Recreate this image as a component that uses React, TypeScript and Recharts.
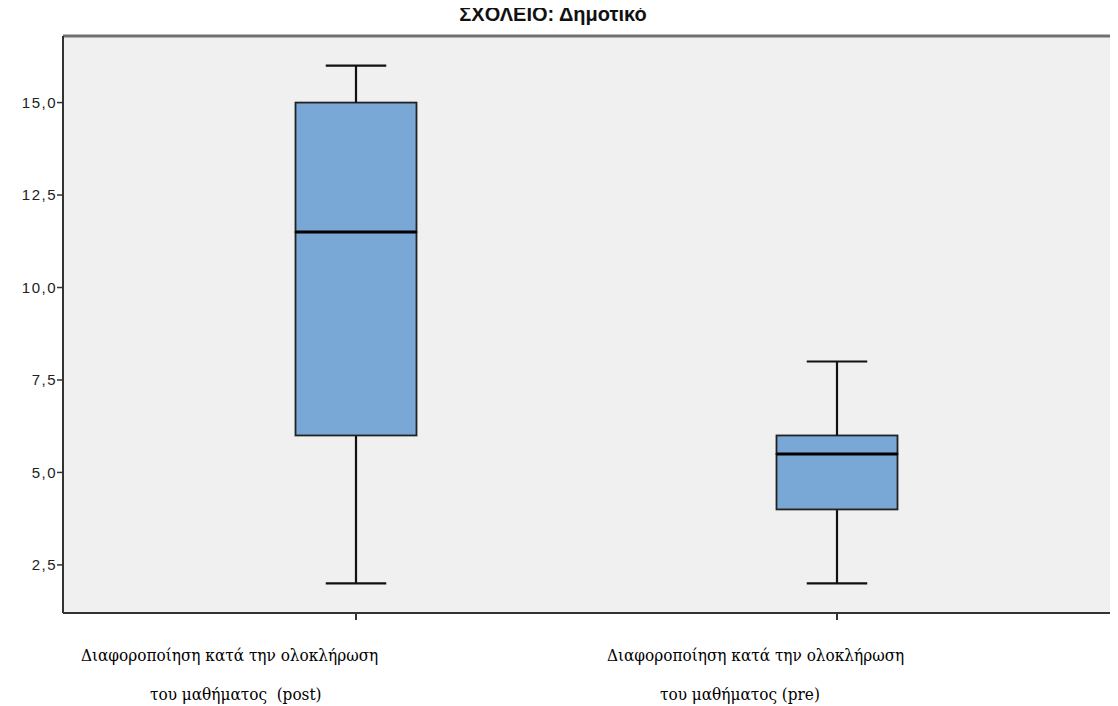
import React from 'react';
import { BarChart, Bar, XAxis, YAxis, CartesianGrid, ReferenceLine } from 'recharts';

// Box plot statistics per group
const LABEL_LINE1 = ['Διαφοροποίηση κατά την ολοκλήρωση', 'Διαφοροποίηση κατά την ολοκλήρωση'];
const LABEL_LINE2 = ['του μαθήματος  (post)', 'του μαθήματος (pre)'];
const CATEGORIES = ['post', 'pre'];
const MIN = [2, 2];
const Q1 = [6, 4];
const MEDIAN = [11.5, 5.5];
const Q3 = [15, 6];
const MAX = [16, 8];
const Y_TICKS = [2.5, 5, 7.5, 10, 12.5, 15];
const Y_DOMAIN = [1.2, 16.8];

// x offsets (line 1, line 2) of the axis labels relative to their tick
const LABEL_OFFSETS = [
    [-275, -206],
    [-230, -177],
];

const WIDTH = 1110;
const HEIGHT = 698;
const BOX_FILL = '#79a7d6';
const INK = '#111';
const SERIF = '"DejaVu Serif Condensed", "DejaVu Serif", serif';
const SANS = '"Liberation Sans", Arial, sans-serif';

const data = CATEGORIES.map((name, i) => ({
    name,
    base: MIN[i],
    lowWhisker: Q1[i] - MIN[i],
    lowBox: MEDIAN[i] - Q1[i],
    highBox: Q3[i] - MEDIAN[i],
    highWhisker: MAX[i] - Q3[i],
}));

const LowWhisker = (p: any) => {
    const cx = p.x + p.width / 2;
    const bottom = p.y + p.height;
    const half = p.width / 4;
    return (
        <g>
            <line x1={cx} x2={cx} y1={p.y} y2={bottom} stroke={INK} strokeWidth={2.2} />
            <line x1={cx - half} x2={cx + half} y1={bottom} y2={bottom} stroke={INK} strokeWidth={2.2} />
        </g>
    );
};

const HighWhisker = (p: any) => {
    const cx = p.x + p.width / 2;
    const half = p.width / 4;
    return (
        <g>
            <line x1={cx} x2={cx} y1={p.y} y2={p.y + p.height} stroke={INK} strokeWidth={2.2} />
            <line x1={cx - half} x2={cx + half} y1={p.y} y2={p.y} stroke={INK} strokeWidth={2.2} />
        </g>
    );
};

const LowBox = (p: any) => (
    <rect x={p.x} y={p.y} width={p.width} height={p.height} fill={BOX_FILL} stroke="#222" strokeWidth={1.8} />
);

// upper half of the box, with the median drawn along its bottom edge
const HighBox = (p: any) => {
    const bottom = p.y + p.height;
    return (
        <g>
            <rect x={p.x} y={p.y} width={p.width} height={p.height} fill={BOX_FILL} stroke="#222" strokeWidth={1.8} />
            <line x1={p.x} x2={p.x + p.width} y1={bottom} y2={bottom} stroke="#000" strokeWidth={3} />
        </g>
    );
};

const CategoryTick = (props: any) => {
    const { x, y, payload } = props;
    const i = CATEGORIES.indexOf(payload.value);
    if (i < 0) return null;
    const font = { fontFamily: SERIF, fontSize: 17, fill: '#000' };
    return (
        <g>
            <text x={x + LABEL_OFFSETS[i][0]} y={y + 41} textAnchor="start" {...font}>
                {LABEL_LINE1[i]}
            </text>
            <text x={x + LABEL_OFFSETS[i][1]} y={y + 80} textAnchor="start" style={{ whiteSpace: 'pre' }} {...font}>
                {LABEL_LINE2[i]}
            </text>
        </g>
    );
};

export default function App() {
    return (
        <div style={{ position: 'relative', width: WIDTH, height: HEIGHT, background: '#fff' }}>
            <div
                style={{
                    position: 'absolute',
                    top: -4,
                    left: -10,
                    width: WIDTH,
                    textAlign: 'center',
                    fontFamily: SANS,
                    fontWeight: 'bold',
                    fontSize: 20,
                    lineHeight: '20px',
                    color: '#111',
                }}
            >
                ΣΧΟΛΕΙΟ: Δημοτικό
            </div>
            <BarChart
                width={WIDTH}
                height={HEIGHT}
                data={data}
                margin={{ top: 28, right: 0, bottom: 0, left: 0 }}
                barSize={121}
            >
                <CartesianGrid fill="#f0f0f0" stroke="#f0f0f0" />
                <XAxis
                    dataKey="name"
                    height={93}
                    padding={{ left: 52.5, right: 40.5 }}
                    axisLine={{ stroke: '#333', strokeWidth: 2 }}
                    tickLine={{ stroke: '#333', strokeWidth: 2 }}
                    tickSize={7}
                    tickMargin={0}
                    tick={<CategoryTick />}
                    interval={0}
                />
                <YAxis
                    type="number"
                    domain={Y_DOMAIN}
                    allowDataOverflow
                    ticks={Y_TICKS}
                    tickFormatter={(v: number) => v.toFixed(1).replace('.', ',')}
                    width={55}
                    tickSize={6}
                    tickMargin={0}
                    axisLine={{ stroke: '#333', strokeWidth: 2 }}
                    tickLine={{ stroke: '#333', strokeWidth: 1.5 }}
                    tick={{ fontFamily: SANS, fontSize: 15, fill: '#222', letterSpacing: 1.5 }}
                />
                <ReferenceLine y={Y_DOMAIN[1]} stroke="#707070" strokeWidth={3} />
                <Bar dataKey="base" stackId="box" fill="none" isAnimationActive={false} />
                <Bar dataKey="lowWhisker" stackId="box" shape={LowWhisker} isAnimationActive={false} />
                <Bar dataKey="lowBox" stackId="box" shape={LowBox} isAnimationActive={false} />
                <Bar dataKey="highBox" stackId="box" shape={HighBox} isAnimationActive={false} />
                <Bar dataKey="highWhisker" stackId="box" shape={HighWhisker} isAnimationActive={false} />
            </BarChart>
        </div>
    );
}
